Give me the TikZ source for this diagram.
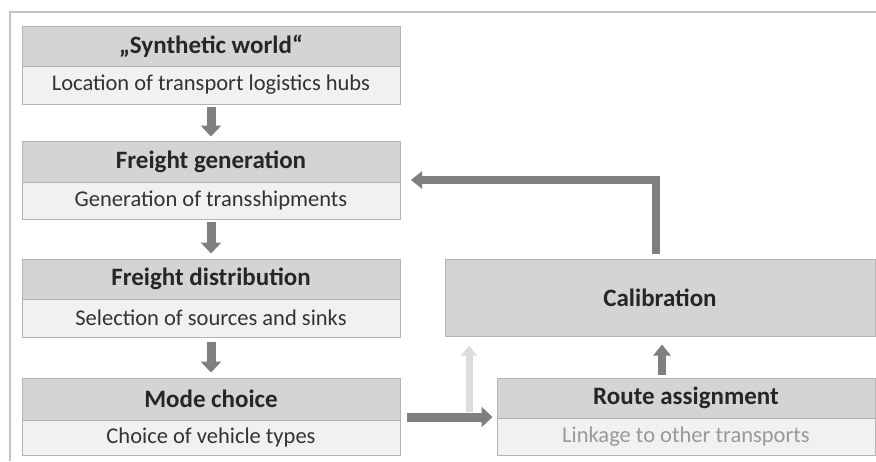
\documentclass[tikz,border=0pt]{standalone}
\usepackage{fontspec}
\setmainfont{Carlito}
\usetikzlibrary{arrows.meta}
\definecolor{hdr}{HTML}{D4D4D4}
\definecolor{sub}{HTML}{F1F1F1}
\definecolor{bord}{HTML}{B4B4B4}
\definecolor{arr}{HTML}{7F7F7F}
\definecolor{larr}{HTML}{DCDCDC}
\definecolor{frame}{HTML}{C4C4C4}
\begin{document}
\begin{tikzpicture}[x=1pt,y=-1pt,
  hbox/.style={draw=bord,line width=1pt,fill=hdr,minimum width=378pt,inner sep=0pt,font=\fontsize{25}{28}\selectfont\bfseries,text=black!85},
  sbox/.style={draw=bord,line width=1pt,fill=sub,minimum width=378pt,inner sep=0pt,font=\fontsize{22.5}{26}\selectfont,text=black!80},
  bigarrow/.style={draw=arr,line width=9pt,-{Triangle[width=20pt,length=11pt]}},
  midarrow/.style={draw=arr,line width=8pt,-{Triangle[width=17pt,length=11pt]}}]
\useasboundingbox (0,0) rectangle (876,461);
\fill[white] (0,0) rectangle (876,461);
\draw[frame,line width=2pt] (10,461) -- (10,12) -- (876,12);
% left column
\node[hbox,minimum height=40pt] (h1) at (211,46) {„Synthetic world“};
\node[sbox,minimum height=38pt] (s1) at (211,85) {Location of transport logistics hubs};
\node[hbox,minimum height=41pt] (h2) at (211,161.5) {Freight generation};
\node[sbox,minimum height=37pt] (s2) at (211,200.5) {Generation of transshipments};
\node[hbox,minimum height=40pt] (h3) at (211,279) {Freight distribution};
\node[sbox,minimum height=38pt] (s3) at (211,318) {Selection of sources and sinks};
\node[hbox,minimum height=42pt] (h4) at (211,399) {Mode choice};
\node[sbox,minimum height=35pt] (s4) at (211,437.5) {Choice of vehicle types};
% right column
\node[hbox,minimum width=430pt,minimum height=77pt] (cal) at (660,297.5) {Calibration};
\node[hbox,minimum height=40pt] (h5) at (686,398) {Route assignment};
\node[sbox,minimum height=37pt,text=black!40] (s5) at (686,436.5) {Linkage to other transports};
% arrows
\draw[bigarrow] ([yshift=-2pt]s1.south) -- ([yshift=4pt]h2.north);
\draw[bigarrow] ([yshift=-2pt]s2.south) -- ([yshift=5pt]h3.north);
\draw[bigarrow] ([yshift=-4pt]s3.south) -- ([yshift=5pt]h4.north);
\coordinate (fbturn) at (656,180);
\coordinate (fbtip) at (411,180);
\draw[midarrow] (cal.north -| fbturn) ++(0,-5) |- (fbtip);
\coordinate (mrstart) at (407,417);
\coordinate (lstart) at (469,412);
\draw[larr,line width=7pt,-{Triangle[width=15pt,length=10pt]}] (lstart) -- ([yshift=-9pt]lstart |- cal.south);
\draw[bigarrow] (mrstart) -- ([xshift=-4pt]mrstart -| h5.west);
\draw[midarrow] ([yshift=3pt]h5.north -| 662,0) -- ([yshift=-8pt]cal.south -| 662,0);
\end{tikzpicture}
\end{document}
